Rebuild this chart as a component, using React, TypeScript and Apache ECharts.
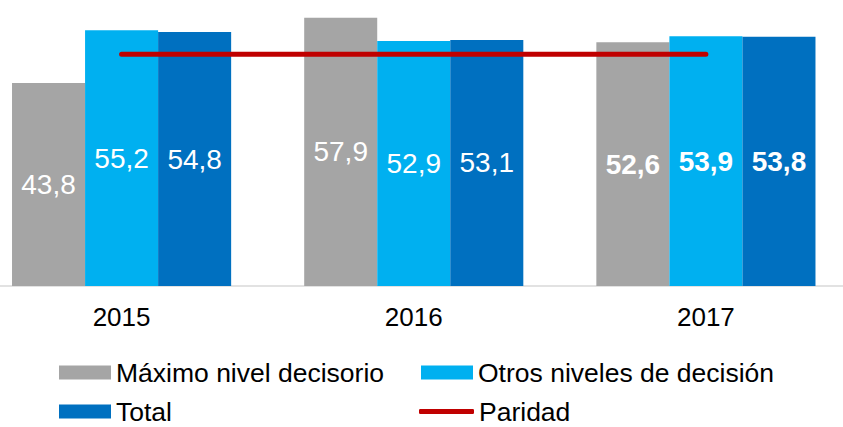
import React, { useEffect, useRef } from "react";
import * as echarts from "echarts";

const categories = ["2015", "2016", "2017"];
const maximoNivel = [43.8, 57.9, 52.6];
const otrosNiveles = [55.2, 52.9, 53.9];
const total = [54.8, 53.1, 53.8];
const paridad = [50, 50, 50];
const boldYear = "2017";

const FONT = "'Liberation Sans', Arial, sans-serif";
const OFFSET = 25; // chart div is shifted left so the first category band can start off-page

function withLabels(values: number[]) {
  return values.map((v, i) => ({
    value: v,
    label: categories[i] === boldYear ? { fontWeight: "bold" } : {},
  }));
}

export default function App() {
  const ref = useRef<HTMLDivElement>(null);
  useEffect(() => {
    if (!ref.current) return;
    const chart = echarts.init(ref.current, undefined, { renderer: "svg" });
    const barLabel = {
      show: true,
      position: "inside",
      color: "#ffffff",
      fontSize: 28,
      fontFamily: FONT,
      formatter: (p: any) => String(p.value).replace(".", ","),
    };
    const legendItem = (name: string, left: number, top: number, extra: any = {}) => ({
      orient: "horizontal",
      left: left + OFFSET,
      top,
      itemWidth: 52,
      itemHeight: 14,
      padding: 0,
      icon: "rect",
      selectedMode: false,
      textStyle: { fontSize: 26.5, lineHeight: 26, color: "#000", fontFamily: FONT },
      data: [name],
      ...extra,
    });
    chart.setOption({
      animation: false,
      textStyle: { fontFamily: FONT },
      grid: { left: 0.5, right: 0, top: 8, bottom: 141 },
      legend: [
        legendItem("Máximo nivel decisorio", 59, 359),
        legendItem("Otros niveles de decisión", 421, 359),
        legendItem("Total", 59, 398),
        legendItem("Paridad", 419, 398, {
          icon: "roundRect",
          itemWidth: 55,
          itemHeight: 5,
          itemStyle: { color: "#C00000" },
        }),
      ],
      xAxis: {
        type: "category",
        data: categories,
        axisLine: { show: true, lineStyle: { color: "#D9D9D9", width: 1.5 } },
        axisTick: { show: false },
        axisLabel: { color: "#000", fontSize: 26, margin: 18, fontFamily: FONT },
      },
      yAxis: {
        type: "value",
        min: 0,
        max: 60,
        show: false,
        splitLine: { show: false },
      },
      series: [
        {
          name: "Máximo nivel decisorio",
          type: "bar",
          data: withLabels(maximoNivel),
          itemStyle: { color: "#A5A5A5" },
          barGap: "0%",
          barCategoryGap: "25%",
          label: barLabel,
        },
        {
          name: "Otros niveles de decisión",
          type: "bar",
          data: withLabels(otrosNiveles),
          itemStyle: { color: "#00B0F0" },
          barGap: "0%",
          barCategoryGap: "25%",
          label: barLabel,
        },
        {
          name: "Total",
          type: "bar",
          data: withLabels(total),
          itemStyle: { color: "#0070C0" },
          barGap: "0%",
          barCategoryGap: "25%",
          label: barLabel,
        },
        {
          name: "Paridad",
          type: "line",
          data: paridad,
          symbol: "none",
          z: 5,
          lineStyle: { color: "#C00000", width: 5, cap: "round" },
          itemStyle: { color: "#C00000" },
        },
      ],
    });
    return () => chart.dispose();
  }, []);
  return (
    <div
      ref={ref}
      style={{
        position: "fixed",
        left: -OFFSET,
        top: 0,
        width: 843 + OFFSET + 9,
        height: 427,
        background: "#fff",
      }}
    />
  );
}
